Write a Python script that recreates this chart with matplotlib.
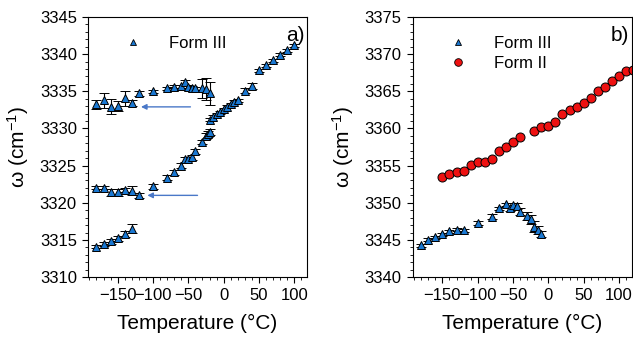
import matplotlib.pyplot as plt
from matplotlib.lines import Line2D
from matplotlib.ticker import MultipleLocator

plt.rcParams['font.family'] = ['Liberation Sans', 'DejaVu Sans']
plt.rcParams['mathtext.fontset'] = 'custom'
plt.rcParams['mathtext.rm'] = 'Liberation Sans'
plt.rcParams['mathtext.it'] = 'Liberation Sans'

# panel a) - Form III, three branches
a_low_t = [-180, -170, -160, -150, -140, -130]
a_low_w = [3314.1, 3314.45, 3314.8, 3315.2, 3315.8, 3316.5]
a_low_e = [0.2, 0.3, 0.3, 0.4, 0.4, 0.6]

a_mid_t = [-180, -170, -160, -150, -140, -130, -120, -100,
           -80, -70, -60, -55, -50, -45, -40, -30, -25, -22, -20]
a_mid_w = [3322.0, 3322.0, 3321.4, 3321.4, 3321.7, 3321.6, 3321.0, 3322.2,
           3323.4, 3324.1, 3325.0, 3325.85, 3325.9, 3326.1, 3326.9, 3328.2, 3329.0, 3329.2, 3329.5]
a_mid_e = [0.2, 0.2, 0.5, 0.5, 0.3, 0.6, 0.3, 0.3,
           0.3, 0.3, 0.3, 0.3, 0.3, 0.3, 0.3, 0.3, 0.4, 0.4, 0.4]

a_high_t = [-180, -170, -160, -150, -140, -130, -120, -100, -80, -70, -60,
            -55, -50, -45, -40, -30, -25, -20,
            -20, -15, -10, -5, 0, 5, 10, 15, 20, 30, 40,
            50, 60, 70, 80, 90, 100]
a_high_w = [3333.25, 3333.8, 3332.9, 3333.05, 3334.05, 3333.4, 3334.7, 3335.0, 3335.4, 3335.6, 3335.7,
            3336.2, 3335.6, 3335.5, 3335.4, 3335.4, 3335.3, 3334.7,
            3331.2, 3331.6, 3331.9, 3332.2, 3332.6, 3332.9, 3333.25, 3333.6, 3333.8, 3335.1, 3335.7,
            3337.8, 3338.5, 3339.2, 3339.9, 3340.5, 3341.2]
a_high_e = [0.6, 1.0, 1.0, 0.7, 1.0, 0.4, 0.3, 0.2, 0.2, 0.2, 0.2,
            0.3, 0.2, 0.2, 0.2, 1.3, 1.5, 1.6,
            0.2, 0.2, 0.2, 0.2, 0.2, 0.2, 0.2, 0.2, 0.2, 0.4, 0.4,
            0.2, 0.2, 0.2, 0.2, 0.2, 0.2]

# arrows (start temp, end temp, omega)
arrow_start = [-47, -37]
arrow_end = [-117, -108]
arrow_w = [3332.9, 3321.0]

# panel b)
b3_t = [-180, -170, -160, -150, -140, -130, -120, -100, -80, -70, -60, -55,
        -50, -45, -40, -30, -25, -20, -15, -10]
b3_w = [3344.3, 3345.0, 3345.35, 3345.75, 3346.15, 3346.4, 3346.3, 3347.25, 3348.15, 3349.25, 3349.8, 3349.25,
        3349.7, 3349.6, 3348.8, 3348.2, 3347.8, 3346.8, 3346.35, 3345.75]
b3_e = [0.2, 0.2, 0.2, 0.2, 0.2, 0.2, 0.2, 0.3, 0.3, 0.2, 0.2, 0.3,
        0.3, 0.4, 0.5, 0.5, 0.6, 0.7, 0.5, 0.4]

b2_t = [-150, -140, -130, -120, -110, -100, -90, -80, -70, -60, -50, -40,
        -20, -10, 0, 10, 20, 30, 40, 50, 60, 70, 80, 90, 100, 110, 120]
b2_w = [3353.5, 3353.9, 3354.1, 3354.3, 3355.1, 3355.45, 3355.5, 3355.9, 3357.0, 3357.55, 3358.2, 3358.9,
        3359.6, 3360.2, 3360.3, 3360.9, 3362.0, 3362.5, 3362.9, 3363.4, 3364.1, 3365.0, 3365.6, 3366.4,
        3367.05, 3367.7, 3367.9]

blue = '#1a78d2'
red = '#ee1111'
tri = dict(fmt='^', ms=6, mfc=blue, mec='black', mew=0.7, ecolor='black',
           elinewidth=0.8, capsize=3.5, capthick=0.8, linestyle='none')


def style_axis(ax, ylo, yhi):
    ax.set_xlim(-192, 118)
    ax.set_ylim(ylo, yhi)
    ax.xaxis.set_major_locator(MultipleLocator(50))
    ax.xaxis.set_minor_locator(MultipleLocator(10))
    ax.yaxis.set_major_locator(MultipleLocator(5))
    ax.yaxis.set_minor_locator(MultipleLocator(1))
    ax.tick_params(which='both', direction='out', top=False, right=False, labelsize=12)
    ax.tick_params(which='major', length=4, width=0.8, pad=4)
    ax.tick_params(which='minor', length=2, width=0.6)
    ax.set_xlabel('Temperature (°C)', fontsize=15, labelpad=8)
    ax.set_ylabel('ω (cm$^{-1}$)', fontsize=15, labelpad=6)
    for s in ax.spines.values():
        s.set_linewidth(0.8)


fig = plt.figure(figsize=(6.33, 3.38), dpi=100)
ax1 = fig.add_axes([0.139, 0.180, 0.346, 0.770])
ax2 = fig.add_axes([0.652, 0.180, 0.346, 0.770])

# panel a
for t, w, e in [(a_low_t, a_low_w, a_low_e), (a_mid_t, a_mid_w, a_mid_e), (a_high_t, a_high_w, a_high_e)]:
    ax1.errorbar(t, w, yerr=e, **tri)
for x0, x1, y in zip(arrow_start, arrow_end, arrow_w):
    ax1.annotate('', xy=(x1, y), xytext=(x0, y),
                 arrowprops=dict(arrowstyle='-|>', color='#4a78c8', lw=1.0,
                                 mutation_scale=8, shrinkA=0, shrinkB=0))
style_axis(ax1, 3310, 3345)
ax1.text(0.99, 0.965, 'a)', transform=ax1.transAxes, ha='right', va='top', fontsize=15)
h3 = Line2D([], [], marker='^', ms=5, mfc=blue, mec='black', mew=0.6, linestyle='none')
ax1.legend([h3], ['Form III'], loc='upper left', bbox_to_anchor=(0.06, 0.985), frameon=False,
           fontsize=12, handletextpad=1.2)

# panel b
ax2.errorbar(b3_t, b3_w, yerr=b3_e, **tri)
ax2.plot(b2_t, b2_w, 'o', ms=6.5, mfc=red, mec='black', mew=0.7, linestyle='none')
style_axis(ax2, 3340, 3375)
ax2.text(0.99, 0.965, 'b)', transform=ax2.transAxes, ha='right', va='top', fontsize=15)
h2 = Line2D([], [], marker='o', ms=5.5, mfc=red, mec='black', mew=0.6, linestyle='none')
ax2.legend([h3, h2], ['Form III', 'Form II'], loc='upper left', bbox_to_anchor=(0.06, 0.985),
           frameon=False, fontsize=12, handletextpad=1.2, labelspacing=0.3)

fig.savefig('out.png', dpi=100)
